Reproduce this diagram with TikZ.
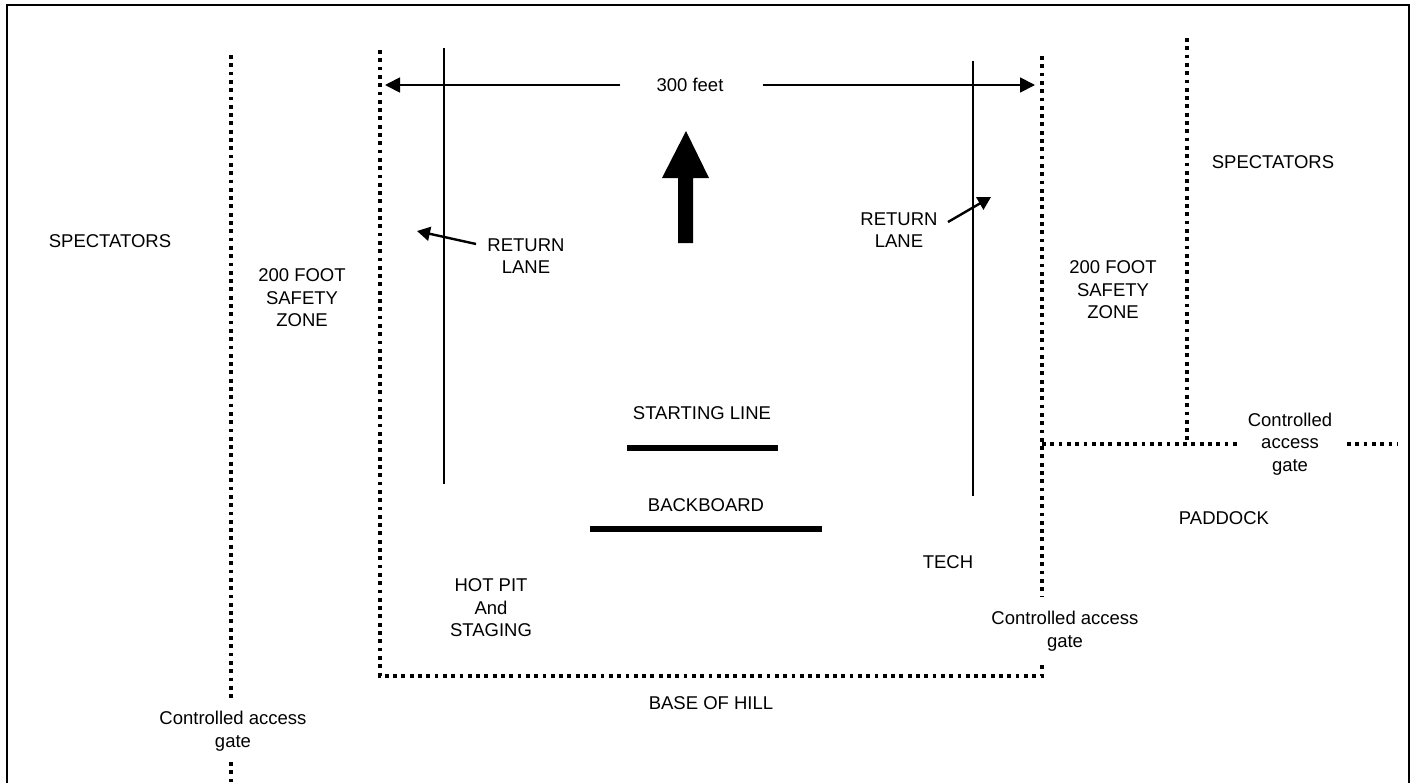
\documentclass[tikz,border=0pt]{standalone}
\usepackage{fontspec}
\setmainfont{Liberation Sans}
\usetikzlibrary{arrows.meta}

\begin{document}
\begin{tikzpicture}[x=1pt,y=-1pt,
  lbl/.style={font=\fontsize{18.5}{22.5}\selectfont, align=center, inner sep=0pt},
  fence/.style={line width=3.8pt, dash pattern=on 3.8pt off 4.5pt},
  lane/.style={line width=1.6pt},
  dim/.style={line width=1.8pt, -{Triangle[length=15pt,width=15pt]}},
  pointer/.style={line width=2.4pt, -{Triangle[length=13pt,width=14pt]}},
  bar/.style={line width=5.5pt}]
\useasboundingbox (0,0) rectangle (1416,782);
% outer frame, open at the bottom
\draw[line width=2.4pt] (7,800) -- (7,5) -- (1409,5) -- (1409,800);
% fences
\draw[fence] (231,55) -- (231,698);
\draw[fence] (231,762) -- (231,790);
\draw[fence] (380,50) -- (380,676) -- (1042,676) -- (1042,663);
\draw[fence] (1042,56) -- (1042,596);
\draw[fence] (1187,38) -- (1187,444);
\draw[fence] (1042,444) -- (1237,444);
\draw[fence] (1347,444) -- (1397,444);
% return lanes
\draw[lane] (444,48) -- (444,484);
\draw[lane] (973,61) -- (973,496);
% texts
\node[lbl] (feet) at (690,85) {300 feet};
\node[lbl] (spl) at (110,241) {SPECTATORS};
\node[lbl] (spr) at (1273,162) {SPECTATORS};
\node[lbl] (szl) at (302,298) {200 FOOT\\SAFETY\\ZONE};
\node[lbl] (szr) at (1113,290) {200 FOOT\\SAFETY\\ZONE};
\node[lbl] (retl) at (526,256) {RETURN\\LANE};
\node[lbl] (retr) at (899,230) {RETURN\\LANE};
\node[lbl] (start) at (702,413) {STARTING LINE};
\node[lbl] (back) at (706,505) {BACKBOARD};
\node[lbl] (hotpit) at (491,608) {HOT PIT\\And\\STAGING};
\node[lbl] (tech) at (948,562) {TECH};
\node[lbl] (paddock) at (1224,518) {PADDOCK};
\node[lbl] (base) at (711,703) {BASE OF HILL};
\node[lbl] (gatel) at (233,731) {Controlled access\\gate};
\node[lbl] (gatem) at (1065,631) {Controlled access\\gate};
\node[lbl] (gater) at (1290,444) {Controlled\\access\\gate};
% 300 feet dimension
\coordinate (diml) at (385,85);
\coordinate (dimr) at (1035,85);
\draw[dim] ([xshift=-36pt]feet.west) -- (diml);
\draw[dim] ([xshift=39pt]feet.east) -- (dimr);
% lane pointers
\coordinate (ptl) at (417,231);
\coordinate (ptr) at (991,197);
\draw[pointer] (476,244) -- (ptl);
\draw[pointer] (948,222) -- (ptr);
% direction of travel
\fill (678,243) -- (678,178) -- (662,178) -- (686,131) -- (709,178)
  -- (693,178) -- (693,243) -- cycle;
% starting line and backboard
\draw[bar] (627,448) -- (778,448);
\draw[bar] (590,529) -- (822,529);
\end{tikzpicture}
\end{document}
